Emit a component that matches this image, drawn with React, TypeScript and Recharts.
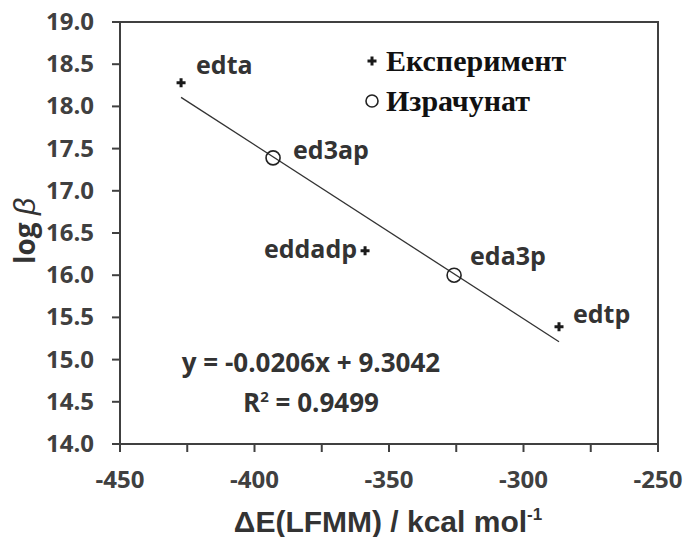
import React from 'react';
import {
  ScatterChart, Scatter, XAxis, YAxis, ReferenceArea, LabelList, Label
} from 'recharts';

// ligand names and read-off values
const ligands = ['edta', 'ed3ap', 'eddadp', 'eda3p', 'edtp'];
const deltaE = [-427.3, -393.1, -358.9, -325.8, -286.8];
const logBeta = [18.28, 17.39, 16.29, 16.0, 15.39];
// which points are measured (+) and which are calculated (o)
const isCalculated = [false, true, false, true, false];

const seriesNames = ['Експеримент', 'Израчунат'];

// linear fit endpoints
const fitX = [-427.3, -286.8];
const fitY = [18.107, 15.212];
const fitEquation = 'y = -0.0206x + 9.3042';
const fitR2 = '0.9499';

const xTicks = [-450, -425, -400, -375, -350, -325, -300, -275, -250];
const yTicks = [14, 14.5, 15, 15.5, 16, 16.5, 17, 17.5, 18, 18.5, 19];

const experimentData = ligands
  .map((name, i) => ({ name, x: deltaE[i], y: logBeta[i] }))
  .filter((_, i) => !isCalculated[i]);
const calculatedData = ligands
  .map((name, i) => ({ name, x: deltaE[i], y: logBeta[i] }))
  .filter((_, i) => isCalculated[i]);
const fitData = fitX.map((x, i) => ({ x, y: fitY[i] }));

const AXIS = '#404040';
const TEXT = '#333333';
const SANS = '"Open Sans", "DejaVu Sans", sans-serif';
const ARIAL = '"Liberation Sans", Arial, sans-serif';
const SERIF = '"Liberation Serif", "DejaVu Serif", serif';
const TICK_FONT = 24;

// label placement per ligand: offset from the marker, anchor
const labelPlacement: Record<string, { dx: number; dy: number; anchor: 'start' | 'end' }> = {
  edta: { dx: 15, dy: -9, anchor: 'start' },
  ed3ap: { dx: 20, dy: 1, anchor: 'start' },
  eddadp: { dx: -8, dy: 7, anchor: 'end' },
  eda3p: { dx: 16, dy: -10, anchor: 'start' },
  edtp: { dx: 14, dy: -4, anchor: 'start' },
};

const XTick = (props: any) => {
  const { x, y, payload } = props;
  const v = payload.value as number;
  if (v % 50 !== 0) return null;
  return (
    <text x={x} y={y + 28} textAnchor="middle" fontFamily={SANS} fontWeight={700}
      fontSize={TICK_FONT} fill={AXIS}>
      {v}
    </text>
  );
};

const YTick = (props: any) => {
  const { x, y, payload } = props;
  return (
    <text x={x - 10} y={y + 8} textAnchor="end" fontFamily={SANS} fontWeight={700}
      fontSize={TICK_FONT} fill={AXIS}>
      {(payload.value as number).toFixed(1)}
    </text>
  );
};

const PlusShape = (props: any) => {
  const { cx, cy } = props;
  if (cx == null || cy == null) return null;
  return (
    <path
      d={`M${cx - 4.5},${cy - 1.5}h9v3h-9z M${cx - 1.5},${cy - 4.5}h3v9h-3z`}
      fill="#1a1a1a"
    />
  );
};

const CircleShape = (props: any) => {
  const { cx, cy } = props;
  if (cx == null || cy == null) return null;
  return <circle cx={cx} cy={cy} r={7} fill="none" stroke="#222" strokeWidth={1.6} />;
};

const NoShape = () => null;

const renderPointLabel = (props: any) => {
  const { x, y, width, height, value } = props;
  const p = labelPlacement[value];
  if (!p) return null;
  const cx = x + (width || 0) / 2;
  const cy = y + (height || 0) / 2;
  return (
    <text
      x={cx + p.dx}
      y={cy + p.dy}
      textAnchor={p.anchor}
      fontFamily={SANS}
      fontWeight={700}
      fontSize={25}
      fill={TEXT}
    >
      {value}
    </text>
  );
};

const YLabel = () => (
  <text
    x={24}
    y={231}
    transform="rotate(-90, 24, 231)"
    textAnchor="middle"
    dominantBaseline="central"
    fontFamily={SANS}
    fontWeight={700}
    fontSize={28}
    fill={TEXT}
  >
    log <tspan fontStyle="italic" fontFamily={ARIAL} fontWeight={400} fontSize={30}>β</tspan>
  </text>
);

const XLabel = () => (
  <text
    x={388}
    y={532}
    textAnchor="middle"
    fontFamily={ARIAL}
    fontWeight={700}
    fontSize={30}
    fill={TEXT}
  >
    ΔE(LFMM) / kcal mol<tspan dy={-12} fontSize={17}>-1</tspan>
  </text>
);

export default function App() {
  return (
    <div style={{ position: 'absolute', left: 0, top: 0, width: 688, height: 537, background: '#fff' }}>
      <ScatterChart width={688} height={537} margin={{ top: 22, right: 30, bottom: 0, left: 0 }}>
        <XAxis
          type="number"
          dataKey="x"
          domain={[-450, -250]}
          ticks={xTicks}
          height={93}
          stroke={AXIS}
          strokeWidth={2}
          tickSize={8}
          tickMargin={8}
          tick={<XTick />}
          allowDataOverflow
        >
          <Label content={<XLabel />} />
        </XAxis>
        <YAxis
          type="number"
          dataKey="y"
          domain={[14, 19]}
          ticks={yTicks}
          width={120}
          stroke={AXIS}
          strokeWidth={2}
          tickSize={8}
          tickMargin={8}
          tick={<YTick />}
          allowDataOverflow
        >
          <Label content={<YLabel />} />
        </YAxis>
        <ReferenceArea x1={-450} x2={-250} y1={14} y2={19} fill="none" stroke={AXIS} strokeWidth={2} />
        <Scatter
          name="fit"
          data={fitData}
          line={{ stroke: '#333', strokeWidth: 1.3 }}
          shape={NoShape}
          legendType="none"
          isAnimationActive={false}
        />
        <Scatter name={seriesNames[0]} data={experimentData} shape={PlusShape} isAnimationActive={false}>
          <LabelList dataKey="name" content={renderPointLabel} />
        </Scatter>
        <Scatter name={seriesNames[1]} data={calculatedData} shape={CircleShape} isAnimationActive={false}>
          <LabelList dataKey="name" content={renderPointLabel} />
        </Scatter>
      </ScatterChart>

      {/* legend */}
      <div
        style={{
          position: 'absolute',
          left: 362,
          top: 41,
          fontFamily: SERIF,
          fontWeight: 700,
          fontSize: 30,
          color: '#111',
          lineHeight: '40px',
        }}
      >
        {seriesNames.map((name, i) => (
          <div key={name} style={{ display: 'flex', alignItems: 'center' }}>
            <svg width={20} height={20} style={{ marginRight: 4 }}>
              {i === 0 ? (
                <path d="M5.5,8.5h9v3h-9z M8.5,5.5h3v9h-3z" fill="#1a1a1a" />
              ) : (
                <circle cx={10} cy={10} r={6} fill="none" stroke="#222" strokeWidth={1.6} />
              )}
            </svg>
            <span>{name}</span>
          </div>
        ))}
      </div>

      {/* fit equation */}
      <div
        style={{
          position: 'absolute',
          left: 160,
          top: 342,
          width: 302,
          textAlign: 'center',
          fontFamily: SANS,
          fontWeight: 700,
          fontSize: 26,
          color: TEXT,
          lineHeight: '40px',
        }}
      >
        <div>{fitEquation}</div>
        <div>
          R<sup style={{ fontSize: 15, verticalAlign: 'super', lineHeight: 0 }}>2</sup> = {fitR2}
        </div>
      </div>
    </div>
  );
}
